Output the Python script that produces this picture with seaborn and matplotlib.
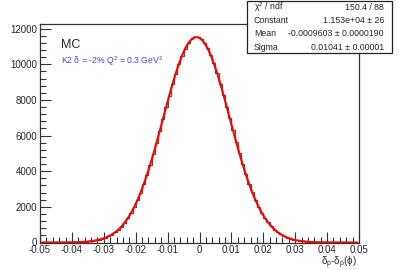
#!/usr/bin/env python3

import seaborn as sns
import matplotlib.pyplot as plt
import matplotlib.ticker as plticker
from matplotlib.patches import Rectangle
import numpy as np

# histogram: 100 bins from -0.05 to 0.05 (counts)
bin_lo = -0.05
bin_hi = 0.05
counts = [0, 0, 1, 1, 1, 2, 3, 4, 6, 9,
          12, 17, 24, 34, 47, 64, 87, 117, 156, 206,
          269, 349, 447, 568, 716, 894, 1106, 1355, 1645, 1980,
          2361, 2787, 3263, 3784, 4348, 4949, 5582, 6237, 6906, 7576,
          8236, 8870, 9465, 10008, 10484, 10882, 11192, 11404, 11514, 11519,
          11417, 11213, 10911, 10519, 10048, 9510, 8919, 8288, 7630, 6959,
          6290, 5634, 4998, 4394, 3828, 3303, 2825, 2393, 2009, 1671,
          1377, 1124, 910, 729, 579, 456, 355, 275, 210, 159,
          120, 89, 66, 48, 35, 25, 18, 12, 9, 6,
          4, 3, 2, 1, 1, 1, 0, 0, 0, 0]

x_ticks = [-0.05, -0.04, -0.03, -0.02, -0.01, 0, 0.01, 0.02, 0.03, 0.04, 0.05]
x_labels = ["-0.05", "-0.04", "-0.03", "-0.02", "-0.01", "0", "0.01", "0.02", "0.03", "0.04", "0.05"]
y_ticks = [0, 2000, 4000, 6000, 8000, 10000, 12000]
y_labels = ["0", "2000", "4000", "6000", "8000", "10000", "12000"]

stat_names = ["\u03c7$^{2}$ / ndf", "Constant", "Mean", "Sigma"]
stat_values = ["150.4 / 88", "1.153e+04 \u00b1 26", "-0.0009603 \u00b1 0.0000190", "0.01041 \u00b1 0.00001"]

sns.set_style("ticks")
plt.rcParams['font.family'] = ['Liberation Sans', 'DejaVu Sans']
plt.rcParams['mathtext.fontset'] = 'custom'
plt.rcParams['mathtext.rm'] = 'Liberation Sans'
plt.rcParams['mathtext.it'] = 'Liberation Sans:italic'

nbins = len(counts)
width = (bin_hi - bin_lo) / nbins
centers = np.array([bin_lo + width * (i + 0.5) for i in range(nbins)])

fig = plt.figure(figsize=(3.99, 2.70), dpi=100)
ax = fig.add_axes([40 / 399, 1 - 242.5 / 270, 319 / 399, (242.5 - 24) / 270])

sns.histplot(x=centers, weights=counts, bins=nbins, binrange=(bin_lo, bin_hi),
             element="step", fill=False, color="#555555", linewidth=0.9, ax=ax)
sns.lineplot(x=centers, y=counts, color="red", linewidth=1.5, ax=ax)

ax.set_xlim(bin_lo, bin_hi)
ax.set_ylim(0, 12260)
ax.set_xlabel("")
ax.set_ylabel("")

ax.xaxis.set_major_locator(plticker.FixedLocator(x_ticks))
ax.xaxis.set_major_formatter(plticker.FixedFormatter(x_labels))
ax.xaxis.set_minor_locator(plticker.MultipleLocator(0.002))
ax.yaxis.set_major_locator(plticker.FixedLocator(y_ticks))
ax.yaxis.set_major_formatter(plticker.FixedFormatter(y_labels))
ax.yaxis.set_minor_locator(plticker.MultipleLocator(400))

ax.tick_params(which="major", direction="in", length=8, width=0.8, labelsize=7, pad=2, color="#333333")
ax.tick_params(which="minor", direction="in", length=4, width=0.8, color="#333333")
for s in ax.spines.values():
    s.set_linewidth(0.9)
    s.set_color("#333333")

fig.text(357 / 399, 1 - 263 / 270, r"$\mathregular{\delta_{p}}$-$\mathregular{\delta_{p}(\phi)}$",
         ha="right", va="center", fontsize=7)

fig.text(61 / 399, 1 - 45 / 270, "MC", ha="left", va="center", fontsize=9)
fig.text(61 / 399, 1 - 61 / 270, "K2 \u03b4 = -2% Q$^{2}$ = 0.3 GeV$^{2}$",
         ha="left", va="center", fontsize=6.2, color="#4040ff")

# stat box with shadow
bx0, by0, bx1, by1 = 247, 0.5, 392, 53
fig.patches.append(Rectangle((bx0 + 3, 1 - (by1 + 3) / 270), (bx1 - bx0) / 399, (by1 - by0) / 270,
                             transform=fig.transFigure, facecolor="#222222", edgecolor="none"))
fig.patches.append(Rectangle((bx0 / 399, 1 - by1 / 270), (bx1 - bx0) / 399, (by1 - by0) / 270,
                             transform=fig.transFigure, facecolor="white", edgecolor="#222222", linewidth=0.9))
row_y = [7, 21, 34, 48]
for name, val, ry in zip(stat_names, stat_values, row_y):
    fig.text(254 / 399, 1 - ry / 270, name, ha="left", va="center", fontsize=6.3)
    fig.text(384 / 399, 1 - ry / 270, val, ha="right", va="center", fontsize=6.3)

fig.savefig("out.png", dpi=100)
plt.close()
